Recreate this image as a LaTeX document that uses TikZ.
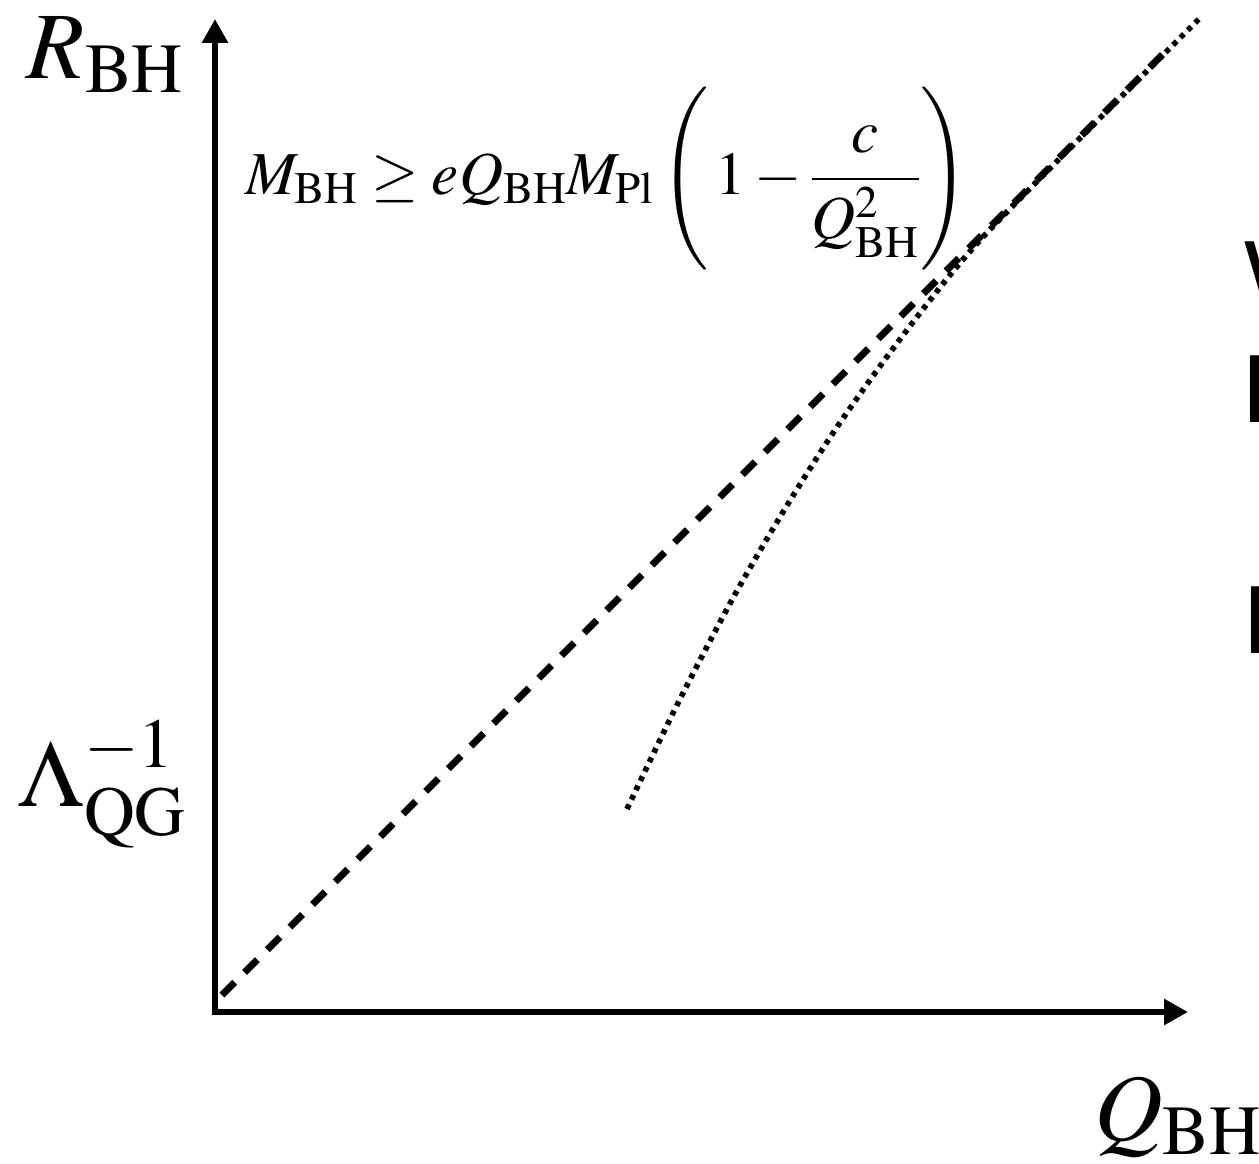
\documentclass[tikz,border=0pt]{standalone}
\usepackage{mathptmx}
\usepackage[no-math]{fontspec}
\newfontfamily\cutsans{Liberation Sans}
\usetikzlibrary{
    arrows.meta
}

\begin{document}
\begin{tikzpicture}[
    x=1pt,
    y=-1pt,
    every node/.style={
        inner sep=0pt,
        outer sep=0pt
    },
    axislabel/.style={
        anchor=base west,
        font=\fontsize{95pt}{100pt}\selectfont
    },
    boundlabel/.style={
        anchor=base west,
        font=\fontsize{61pt}{73pt}\selectfont
    },
    cutword/.style={
        anchor=base west,
        font=\cutsans\fontsize{97pt}{100pt}\selectfont
    },
    axisline/.style={
        line width=6pt,
        line join=miter,
        {Triangle[length=24pt,width=25pt]}-{Triangle[length=24pt,width=25pt]}
    },
    extremal/.style={
        line width=7pt,
        dash pattern=on 18pt off 14pt
    },
    corrected/.style={
        line width=5.6pt,
        dash pattern=on 5pt off 5.4pt
    }
]

    \useasboundingbox (0,0) rectangle (1259,1164);

    % -------------------------------------------------------
    % Axes
    % -------------------------------------------------------
    \coordinate (origin) at (215,1012);
    \coordinate (rtop) at (215,19);
    \coordinate (qend) at (1188,1012);

    \draw[axisline]
        (rtop) |- (qend);

    \node[axislabel] (rlabel) at (27,78)
        {$R_{\rm BH}$};

    \node[axislabel] (qlabel) at (1094,1140)
        {$Q_{\rm BH}$};

    \node[axislabel] (cutoff) at (19,806)
        {$\Lambda_{\rm QG}^{-1}$};

    % -------------------------------------------------------
    % Extremal line and corrected bound
    % -------------------------------------------------------
    \coordinate (linestart) at (222,995);
    \coordinate (lineend) at (1163,54);

    \draw[extremal]
        (linestart) -- (lineend);

    \draw[corrected]
        plot[smooth] coordinates {
            (627,809) (678,703) (733,598) (783,512)
            (833,433) (878,369) (920,313) (960,263)
            (1000,219) (1100,118) (1200,18)
        };

    \node[boundlabel] (bound) at (245,194)
        {$\displaystyle M_{\rm BH}\geq eQ_{\rm BH}M_{\rm Pl}
          \left(\,1-\frac{c}{Q_{\rm BH}^2}\right)$};

    % -------------------------------------------------------
    % Text cut off at the right edge
    % -------------------------------------------------------
    \node[cutword] (cutone) at (1244,308) {W};
    \node[cutword] (cuttwo) at (1241,422) {I};
    \node[cutword] (cutthree) at (1242,653) {I};

\end{tikzpicture}
\end{document}
